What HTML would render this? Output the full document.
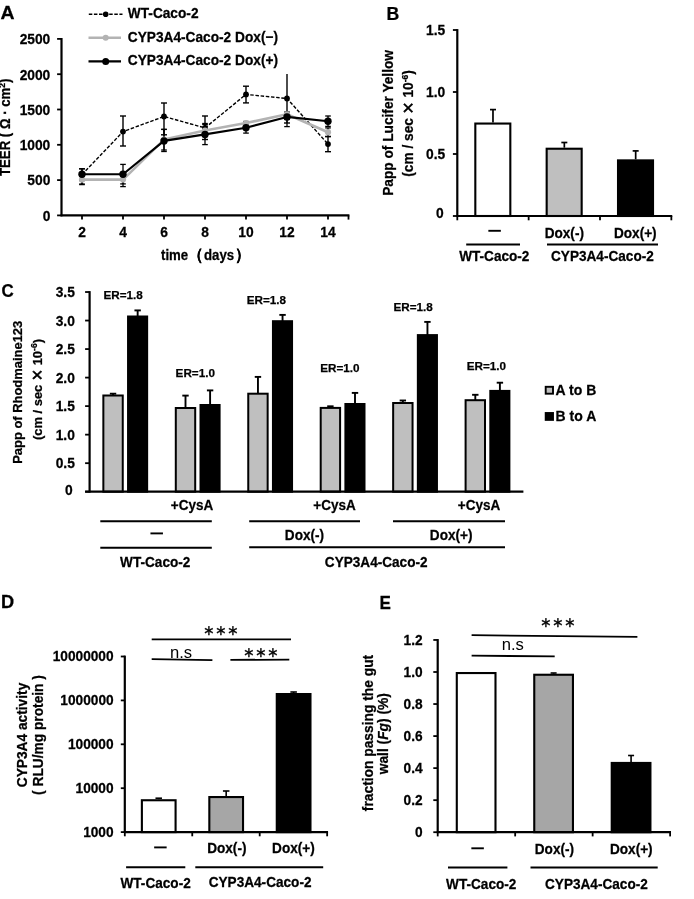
<!DOCTYPE html>
<html lang="en">
<head>
<meta charset="utf-8">
<title>Figure</title>
<style>
html,body{margin:0;padding:0;background:#fff;}
body{width:694px;height:899px;overflow:hidden;}
svg{display:block;}
svg text{font-family:"Liberation Sans", sans-serif;fill:#000;}
</style>
</head>
<body>
<svg width="694" height="899" viewBox="0 0 694 899">
<rect x="0" y="0" width="694" height="899" fill="#fff"/>
<text font-size="18" text-anchor="start" font-weight="bold" transform="translate(0.6 19) scale(1.08 1)" stroke="#000" stroke-width="0.25" >A</text>
<text font-size="18" text-anchor="start" font-weight="bold" transform="translate(386.4 19.5) scale(0.98 1)" stroke="#000" stroke-width="0.25" >B</text>
<text font-size="18" text-anchor="start" font-weight="bold" transform="translate(1.5 296.9) scale(0.94 1)" stroke="#000" stroke-width="0.25" >C</text>
<text font-size="18" text-anchor="start" font-weight="bold" transform="translate(0.9 608.4) scale(1.01 1)" stroke="#000" stroke-width="0.25" >D</text>
<text font-size="18" text-anchor="start" font-weight="bold" transform="translate(379.4 608.6) scale(0.95 1)" stroke="#000" stroke-width="0.25" >E</text>
<line x1="61.5" y1="38" x2="61.5" y2="216.3" stroke="#000" stroke-width="2.2" />
<line x1="60.6" y1="215.4" x2="349.4" y2="215.4" stroke="#000" stroke-width="2.2" />
<line x1="57.1" y1="215.4" x2="61.5" y2="215.4" stroke="#000" stroke-width="1.8" />
<text font-size="13.8" text-anchor="end" font-weight="bold" transform="translate(50.3 220.7) scale(1 1.05)" stroke="#000" stroke-width="0.25" >0</text>
<line x1="57.1" y1="180.1" x2="61.5" y2="180.1" stroke="#000" stroke-width="1.8" />
<text font-size="13.8" text-anchor="end" font-weight="bold" transform="translate(50.3 185.4) scale(1 1.05)" stroke="#000" stroke-width="0.25" >500</text>
<line x1="57.1" y1="144.8" x2="61.5" y2="144.8" stroke="#000" stroke-width="1.8" />
<text font-size="13.8" text-anchor="end" font-weight="bold" transform="translate(50.3 150.1) scale(1 1.05)" stroke="#000" stroke-width="0.25" >1000</text>
<line x1="57.1" y1="109.5" x2="61.5" y2="109.5" stroke="#000" stroke-width="1.8" />
<text font-size="13.8" text-anchor="end" font-weight="bold" transform="translate(50.3 114.8) scale(1 1.05)" stroke="#000" stroke-width="0.25" >1500</text>
<line x1="57.1" y1="74.2" x2="61.5" y2="74.2" stroke="#000" stroke-width="1.8" />
<text font-size="13.8" text-anchor="end" font-weight="bold" transform="translate(50.3 79.5) scale(1 1.05)" stroke="#000" stroke-width="0.25" >2000</text>
<line x1="57.1" y1="38.9" x2="61.5" y2="38.9" stroke="#000" stroke-width="1.8" />
<text font-size="13.8" text-anchor="end" font-weight="bold" transform="translate(50.3 44.2) scale(1 1.05)" stroke="#000" stroke-width="0.25" >2500</text>
<line x1="82" y1="215.4" x2="82" y2="219.6" stroke="#000" stroke-width="1.8" />
<text font-size="13.8" text-anchor="middle" font-weight="bold" transform="translate(82 236.8) scale(1 1.05)" stroke="#000" stroke-width="0.25" >2</text>
<line x1="123" y1="215.4" x2="123" y2="219.6" stroke="#000" stroke-width="1.8" />
<text font-size="13.8" text-anchor="middle" font-weight="bold" transform="translate(123 236.8) scale(1 1.05)" stroke="#000" stroke-width="0.25" >4</text>
<line x1="164" y1="215.4" x2="164" y2="219.6" stroke="#000" stroke-width="1.8" />
<text font-size="13.8" text-anchor="middle" font-weight="bold" transform="translate(164 236.8) scale(1 1.05)" stroke="#000" stroke-width="0.25" >6</text>
<line x1="205" y1="215.4" x2="205" y2="219.6" stroke="#000" stroke-width="1.8" />
<text font-size="13.8" text-anchor="middle" font-weight="bold" transform="translate(205 236.8) scale(1 1.05)" stroke="#000" stroke-width="0.25" >8</text>
<line x1="246" y1="215.4" x2="246" y2="219.6" stroke="#000" stroke-width="1.8" />
<text font-size="13.8" text-anchor="middle" font-weight="bold" transform="translate(246 236.8) scale(1 1.05)" stroke="#000" stroke-width="0.25" >10</text>
<line x1="287" y1="215.4" x2="287" y2="219.6" stroke="#000" stroke-width="1.8" />
<text font-size="13.8" text-anchor="middle" font-weight="bold" transform="translate(287 236.8) scale(1 1.05)" stroke="#000" stroke-width="0.25" >12</text>
<line x1="328" y1="215.4" x2="328" y2="219.6" stroke="#000" stroke-width="1.8" />
<text font-size="13.8" text-anchor="middle" font-weight="bold" transform="translate(328 236.8) scale(1 1.05)" stroke="#000" stroke-width="0.25" >14</text>
<line x1="348.5" y1="215.4" x2="348.5" y2="219.6" stroke="#000" stroke-width="1.8" />
<text font-size="13.2" text-anchor="middle" font-weight="bold" transform="translate(10.2 127.3) rotate(-90) scale(1 1.05)" stroke="#000" stroke-width="0.25" >TEER ( Ω · cm<tspan font-size="8.5" dy="-4.5">2</tspan><tspan dy="4.5">)</tspan></text>
<text font-size="13.2" text-anchor="start" font-weight="bold" transform="translate(161 259.6) scale(1 1.05)" stroke="#000" stroke-width="0.25" >time</text>
<text font-size="15" text-anchor="start" font-weight="bold" transform="translate(187.6 260) scale(1 1.05)" stroke="#000" stroke-width="0.25" font-family='"Liberation Sans","Noto Sans CJK JP",sans-serif'>（</text>
<text font-size="13.2" text-anchor="start" font-weight="bold" transform="translate(204 259.6) scale(1 1.05)" stroke="#000" stroke-width="0.25" >days</text>
<text font-size="15" text-anchor="start" font-weight="bold" transform="translate(235 260) scale(1 1.05)" stroke="#000" stroke-width="0.25" font-family='"Liberation Sans","Noto Sans CJK JP",sans-serif'>）</text>
<line x1="82" y1="168.8" x2="82" y2="180.5" stroke="#000" stroke-width="1.4" />
<line x1="79" y1="168.8" x2="85" y2="168.8" stroke="#000" stroke-width="1.4" />
<line x1="79" y1="180.5" x2="85" y2="180.5" stroke="#000" stroke-width="1.4" />
<line x1="123" y1="116" x2="123" y2="146" stroke="#000" stroke-width="1.4" />
<line x1="120" y1="116" x2="126" y2="116" stroke="#000" stroke-width="1.4" />
<line x1="120" y1="146" x2="126" y2="146" stroke="#000" stroke-width="1.4" />
<line x1="164" y1="103" x2="164" y2="134.8" stroke="#000" stroke-width="1.4" />
<line x1="161" y1="103" x2="167" y2="103" stroke="#000" stroke-width="1.4" />
<line x1="161" y1="134.8" x2="167" y2="134.8" stroke="#000" stroke-width="1.4" />
<line x1="205" y1="116" x2="205" y2="139.5" stroke="#000" stroke-width="1.4" />
<line x1="202" y1="116" x2="208" y2="116" stroke="#000" stroke-width="1.4" />
<line x1="202" y1="139.5" x2="208" y2="139.5" stroke="#000" stroke-width="1.4" />
<line x1="246" y1="86.2" x2="246" y2="102.9" stroke="#000" stroke-width="1.4" />
<line x1="243" y1="86.2" x2="249" y2="86.2" stroke="#000" stroke-width="1.4" />
<line x1="243" y1="102.9" x2="249" y2="102.9" stroke="#000" stroke-width="1.4" />
<line x1="287" y1="73.9" x2="287" y2="123" stroke="#000" stroke-width="1.4" />
<line x1="284" y1="123" x2="290" y2="123" stroke="#000" stroke-width="1.4" />
<line x1="328" y1="136.5" x2="328" y2="151.7" stroke="#000" stroke-width="1.4" />
<line x1="325" y1="136.5" x2="331" y2="136.5" stroke="#000" stroke-width="1.4" />
<line x1="325" y1="151.7" x2="331" y2="151.7" stroke="#000" stroke-width="1.4" />
<line x1="82" y1="175" x2="82" y2="184" stroke="#000" stroke-width="1.3" />
<line x1="79.2" y1="175" x2="84.8" y2="175" stroke="#000" stroke-width="1.3" />
<line x1="79.2" y1="184" x2="84.8" y2="184" stroke="#000" stroke-width="1.3" />
<line x1="123" y1="172.5" x2="123" y2="186.6" stroke="#000" stroke-width="1.3" />
<line x1="120.2" y1="172.5" x2="125.8" y2="172.5" stroke="#000" stroke-width="1.3" />
<line x1="120.2" y1="186.6" x2="125.8" y2="186.6" stroke="#000" stroke-width="1.3" />
<line x1="164" y1="129.4" x2="164" y2="150" stroke="#000" stroke-width="1.3" />
<line x1="161.2" y1="129.4" x2="166.8" y2="129.4" stroke="#000" stroke-width="1.3" />
<line x1="161.2" y1="150" x2="166.8" y2="150" stroke="#000" stroke-width="1.3" />
<line x1="205" y1="124.5" x2="205" y2="136.5" stroke="#000" stroke-width="1.3" />
<line x1="202.2" y1="124.5" x2="207.8" y2="124.5" stroke="#000" stroke-width="1.3" />
<line x1="202.2" y1="136.5" x2="207.8" y2="136.5" stroke="#000" stroke-width="1.3" />
<line x1="246" y1="121.5" x2="246" y2="126.5" stroke="#000" stroke-width="1.3" />
<line x1="243.2" y1="121.5" x2="248.8" y2="121.5" stroke="#000" stroke-width="1.3" />
<line x1="243.2" y1="126.5" x2="248.8" y2="126.5" stroke="#000" stroke-width="1.3" />
<line x1="287" y1="112" x2="287" y2="119.5" stroke="#000" stroke-width="1.3" />
<line x1="284.2" y1="112" x2="289.8" y2="112" stroke="#000" stroke-width="1.3" />
<line x1="284.2" y1="119.5" x2="289.8" y2="119.5" stroke="#000" stroke-width="1.3" />
<line x1="328" y1="127.9" x2="328" y2="136.6" stroke="#000" stroke-width="1.3" />
<line x1="325.2" y1="127.9" x2="330.8" y2="127.9" stroke="#000" stroke-width="1.3" />
<line x1="325.2" y1="136.6" x2="330.8" y2="136.6" stroke="#000" stroke-width="1.3" />
<line x1="82" y1="168.8" x2="82" y2="184.6" stroke="#000" stroke-width="1.3" />
<line x1="79.2" y1="168.8" x2="84.8" y2="168.8" stroke="#000" stroke-width="1.3" />
<line x1="79.2" y1="184.6" x2="84.8" y2="184.6" stroke="#000" stroke-width="1.3" />
<line x1="123" y1="164.4" x2="123" y2="183.9" stroke="#000" stroke-width="1.3" />
<line x1="120.2" y1="164.4" x2="125.8" y2="164.4" stroke="#000" stroke-width="1.3" />
<line x1="120.2" y1="183.9" x2="125.8" y2="183.9" stroke="#000" stroke-width="1.3" />
<line x1="164" y1="129.4" x2="164" y2="151.5" stroke="#000" stroke-width="1.3" />
<line x1="161.2" y1="129.4" x2="166.8" y2="129.4" stroke="#000" stroke-width="1.3" />
<line x1="161.2" y1="151.5" x2="166.8" y2="151.5" stroke="#000" stroke-width="1.3" />
<line x1="205" y1="123.5" x2="205" y2="144.6" stroke="#000" stroke-width="1.3" />
<line x1="202.2" y1="123.5" x2="207.8" y2="123.5" stroke="#000" stroke-width="1.3" />
<line x1="202.2" y1="144.6" x2="207.8" y2="144.6" stroke="#000" stroke-width="1.3" />
<line x1="246" y1="124.5" x2="246" y2="133.1" stroke="#000" stroke-width="1.3" />
<line x1="243.2" y1="124.5" x2="248.8" y2="124.5" stroke="#000" stroke-width="1.3" />
<line x1="243.2" y1="133.1" x2="248.8" y2="133.1" stroke="#000" stroke-width="1.3" />
<line x1="287" y1="113.5" x2="287" y2="126.6" stroke="#000" stroke-width="1.3" />
<line x1="284.2" y1="113.5" x2="289.8" y2="113.5" stroke="#000" stroke-width="1.3" />
<line x1="284.2" y1="126.6" x2="289.8" y2="126.6" stroke="#000" stroke-width="1.3" />
<line x1="328" y1="116" x2="328" y2="126.4" stroke="#000" stroke-width="1.3" />
<line x1="325.2" y1="116" x2="330.8" y2="116" stroke="#000" stroke-width="1.3" />
<line x1="325.2" y1="126.4" x2="330.8" y2="126.4" stroke="#000" stroke-width="1.3" />
<polyline points="82,174.5 123,131.6 164,116.5 205,127.9 246,94.4 287,98.5 328,144.1" fill="none" stroke="#000" stroke-width="1.4" stroke-linejoin="round" stroke-dasharray="3.5 1.7"/>
<circle cx="82" cy="174.5" r="2.9" fill="#000"/>
<circle cx="123" cy="131.6" r="2.9" fill="#000"/>
<circle cx="164" cy="116.5" r="2.9" fill="#000"/>
<circle cx="205" cy="127.9" r="2.9" fill="#000"/>
<circle cx="246" cy="94.4" r="2.9" fill="#000"/>
<circle cx="287" cy="98.5" r="2.9" fill="#000"/>
<circle cx="328" cy="144.1" r="2.9" fill="#000"/>
<polyline points="82,179.6 123,179.6 164,139.6 205,130.5 246,123 287,114.3 328,132.2" fill="none" stroke="#b3b3b3" stroke-width="2.6" stroke-linejoin="round"/>
<circle cx="82" cy="179.6" r="3.1" fill="#b3b3b3"/>
<circle cx="123" cy="179.6" r="3.1" fill="#b3b3b3"/>
<circle cx="164" cy="139.6" r="3.1" fill="#b3b3b3"/>
<circle cx="205" cy="130.5" r="3.1" fill="#b3b3b3"/>
<circle cx="246" cy="123" r="3.1" fill="#b3b3b3"/>
<circle cx="287" cy="114.3" r="3.1" fill="#b3b3b3"/>
<circle cx="328" cy="132.2" r="3.1" fill="#b3b3b3"/>
<polyline points="82,174.3 123,174.3 164,140.9 205,134.4 246,127.7 287,116.9 328,121.2" fill="none" stroke="#000" stroke-width="2.1" stroke-linejoin="round"/>
<circle cx="82" cy="174.3" r="3.7" fill="#000"/>
<circle cx="123" cy="174.3" r="3.7" fill="#000"/>
<circle cx="164" cy="140.9" r="3.7" fill="#000"/>
<circle cx="205" cy="134.4" r="3.7" fill="#000"/>
<circle cx="246" cy="127.7" r="3.7" fill="#000"/>
<circle cx="287" cy="116.9" r="3.7" fill="#000"/>
<circle cx="328" cy="121.2" r="3.7" fill="#000"/>
<line x1="88.8" y1="14.2" x2="122.5" y2="14.2" stroke="#000" stroke-width="1.4" stroke-dasharray="3.5 1.6"/>
<circle cx="105.7" cy="14.2" r="2.8" fill="#000"/>
<text font-size="13.7" text-anchor="start" font-weight="bold" transform="translate(127.8 18) scale(1 1.07)" stroke="#000" stroke-width="0.25" >WT-Caco-2</text>
<line x1="88.5" y1="37.8" x2="121" y2="37.8" stroke="#b3b3b3" stroke-width="2.4" />
<circle cx="105.7" cy="37.8" r="3" fill="#b3b3b3"/>
<text font-size="13.7" text-anchor="start" font-weight="bold" transform="translate(127.8 41.7) scale(1 1.07)" stroke="#000" stroke-width="0.25" >CYP3A4-Caco-2 Dox(−)</text>
<line x1="88.5" y1="61.4" x2="121" y2="61.4" stroke="#000" stroke-width="2.1" />
<circle cx="105.7" cy="61.4" r="3.5" fill="#000"/>
<text font-size="13.7" text-anchor="start" font-weight="bold" transform="translate(127.8 65.2) scale(1 1.07)" stroke="#000" stroke-width="0.25" >CYP3A4-Caco-2 Dox(+)</text>
<line x1="457.3" y1="29.1" x2="457.3" y2="216.9" stroke="#000" stroke-width="2.2" />
<text font-size="13.8" text-anchor="end" font-weight="bold" transform="translate(445.2 158.9) scale(1 1.05)" stroke="#000" stroke-width="0.25" >0.5</text>
<text font-size="13.8" text-anchor="end" font-weight="bold" transform="translate(445.2 96.9) scale(1 1.05)" stroke="#000" stroke-width="0.25" >1.0</text>
<text font-size="13.8" text-anchor="end" font-weight="bold" transform="translate(445.2 34.9) scale(1 1.05)" stroke="#000" stroke-width="0.25" >1.5</text>
<text font-size="13.8" text-anchor="end" font-weight="bold" transform="translate(443.6 217.7) scale(1 1.05)" stroke="#000" stroke-width="0.25" >0</text>
<line x1="452.9" y1="216" x2="457.3" y2="216" stroke="#000" stroke-width="1.8" />
<line x1="452.9" y1="154" x2="457.3" y2="154" stroke="#000" stroke-width="1.8" />
<line x1="452.9" y1="92" x2="457.3" y2="92" stroke="#000" stroke-width="1.8" />
<line x1="452.9" y1="30" x2="457.3" y2="30" stroke="#000" stroke-width="1.8" />
<line x1="457.3" y1="216" x2="457.3" y2="220.3" stroke="#000" stroke-width="1.8" />
<line x1="528.65" y1="216" x2="528.65" y2="220.3" stroke="#000" stroke-width="1.8" />
<line x1="600" y1="216" x2="600" y2="220.3" stroke="#000" stroke-width="1.8" />
<line x1="671.35" y1="216" x2="671.35" y2="220.3" stroke="#000" stroke-width="1.8" />
<line x1="492.98" y1="109.6" x2="492.98" y2="122.5" stroke="#000" stroke-width="1.7" />
<line x1="489.98" y1="109.6" x2="495.98" y2="109.6" stroke="#000" stroke-width="1.7" />
<rect x="475.32" y="123.55" width="35" height="92.45" fill="#fff" stroke="#000" stroke-width="2.1"/>
<line x1="564.33" y1="142.5" x2="564.33" y2="147.68" stroke="#000" stroke-width="1.7" />
<line x1="561.33" y1="142.5" x2="567.33" y2="142.5" stroke="#000" stroke-width="1.7" />
<rect x="546.67" y="148.73" width="35" height="67.27" fill="#bfbfbf" stroke="#000" stroke-width="2.1"/>
<line x1="635.67" y1="150.9" x2="635.67" y2="159.33" stroke="#000" stroke-width="1.7" />
<line x1="632.67" y1="150.9" x2="638.67" y2="150.9" stroke="#000" stroke-width="1.7" />
<rect x="618.02" y="160.38" width="35" height="55.62" fill="#000" stroke="#000" stroke-width="2.1"/>
<line x1="456.4" y1="216" x2="672.25" y2="216" stroke="#000" stroke-width="2.2" />
<text font-size="13.7" text-anchor="middle" font-weight="bold" transform="translate(393 122.9) rotate(-90) scale(1 1.05)" stroke="#000" stroke-width="0.25" >Papp of Lucifer Yellow</text>
<text font-size="13.7" text-anchor="middle" font-weight="bold" transform="translate(413 123.4) rotate(-90) scale(1 1.05)" stroke="#000" stroke-width="0.25" >(cm / sec<tspan dx="4.52" dy="2.19" font-size="19.86" font-weight="normal" stroke-width="0.5">×</tspan><tspan dx="4.52" dy="-2.19">10</tspan><tspan font-size="8.6" dy="-4.6">-6</tspan><tspan dy="4.6">)</tspan></text>
<line x1="488.35" y1="230.8" x2="500.85" y2="230.8" stroke="#000" stroke-width="1.9" />
<text font-size="13.6" text-anchor="middle" font-weight="bold" transform="translate(564.3 237.8) scale(1 1.05)" stroke="#000" stroke-width="0.25" >Dox(-)</text>
<text font-size="13.6" text-anchor="middle" font-weight="bold" transform="translate(635.3 237.8) scale(1 1.05)" stroke="#000" stroke-width="0.25" >Dox(+)</text>
<line x1="466.2" y1="244.5" x2="520" y2="244.5" stroke="#000" stroke-width="2" />
<line x1="547" y1="244.5" x2="658" y2="244.5" stroke="#000" stroke-width="2" />
<text font-size="13.6" text-anchor="middle" font-weight="bold" transform="translate(494.3 261.2) scale(1 1.05)" stroke="#000" stroke-width="0.25" >WT-Caco-2</text>
<text font-size="13.6" text-anchor="middle" font-weight="bold" transform="translate(602.4 261.2) scale(1 1.05)" stroke="#000" stroke-width="0.25" >CYP3A4-Caco-2</text>
<line x1="89.6" y1="291.12" x2="89.6" y2="492.6" stroke="#000" stroke-width="2.2" />
<line x1="85.1" y1="491.7" x2="89.6" y2="491.7" stroke="#000" stroke-width="1.8" />
<line x1="85.1" y1="463.18" x2="89.6" y2="463.18" stroke="#000" stroke-width="1.8" />
<text font-size="13.8" text-anchor="end" font-weight="bold" transform="translate(74.8 468.18) scale(1 1.05)" stroke="#000" stroke-width="0.25" >0.5</text>
<line x1="85.1" y1="434.65" x2="89.6" y2="434.65" stroke="#000" stroke-width="1.8" />
<text font-size="13.8" text-anchor="end" font-weight="bold" transform="translate(74.8 439.65) scale(1 1.05)" stroke="#000" stroke-width="0.25" >1.0</text>
<line x1="85.1" y1="406.12" x2="89.6" y2="406.12" stroke="#000" stroke-width="1.8" />
<text font-size="13.8" text-anchor="end" font-weight="bold" transform="translate(74.8 411.12) scale(1 1.05)" stroke="#000" stroke-width="0.25" >1.5</text>
<line x1="85.1" y1="377.6" x2="89.6" y2="377.6" stroke="#000" stroke-width="1.8" />
<text font-size="13.8" text-anchor="end" font-weight="bold" transform="translate(74.8 382.6) scale(1 1.05)" stroke="#000" stroke-width="0.25" >2.0</text>
<line x1="85.1" y1="349.07" x2="89.6" y2="349.07" stroke="#000" stroke-width="1.8" />
<text font-size="13.8" text-anchor="end" font-weight="bold" transform="translate(74.8 354.07) scale(1 1.05)" stroke="#000" stroke-width="0.25" >2.5</text>
<line x1="85.1" y1="320.55" x2="89.6" y2="320.55" stroke="#000" stroke-width="1.8" />
<text font-size="13.8" text-anchor="end" font-weight="bold" transform="translate(74.8 325.55) scale(1 1.05)" stroke="#000" stroke-width="0.25" >3.0</text>
<line x1="85.1" y1="292.02" x2="89.6" y2="292.02" stroke="#000" stroke-width="1.8" />
<text font-size="13.8" text-anchor="end" font-weight="bold" transform="translate(74.8 297.02) scale(1 1.05)" stroke="#000" stroke-width="0.25" >3.5</text>
<text font-size="13.8" text-anchor="end" font-weight="bold" transform="translate(72.6 494.9) scale(1 1.05)" stroke="#000" stroke-width="0.25" >0</text>
<line x1="113.05" y1="393.7" x2="113.05" y2="395.5" stroke="#000" stroke-width="1.9" />
<line x1="109.85" y1="393.7" x2="116.25" y2="393.7" stroke="#000" stroke-width="1.9" />
<rect x="103.35" y="395.5" width="19.4" height="96.2" fill="#bfbfbf" stroke="#000" stroke-width="2"/>
<line x1="137.65" y1="310.4" x2="137.65" y2="316.5" stroke="#000" stroke-width="1.9" />
<line x1="134.45" y1="310.4" x2="140.85" y2="310.4" stroke="#000" stroke-width="1.9" />
<rect x="128.05" y="316.5" width="19.1" height="175.2" fill="#000" stroke="#000" stroke-width="2"/>
<line x1="185.5" y1="395.6" x2="185.5" y2="408" stroke="#000" stroke-width="1.9" />
<line x1="182.3" y1="395.6" x2="188.7" y2="395.6" stroke="#000" stroke-width="1.9" />
<rect x="175.8" y="408" width="19.4" height="83.7" fill="#bfbfbf" stroke="#000" stroke-width="2"/>
<line x1="210.1" y1="390.4" x2="210.1" y2="405" stroke="#000" stroke-width="1.9" />
<line x1="206.9" y1="390.4" x2="213.3" y2="390.4" stroke="#000" stroke-width="1.9" />
<rect x="200.5" y="405" width="19.1" height="86.7" fill="#000" stroke="#000" stroke-width="2"/>
<line x1="257.95" y1="376.9" x2="257.95" y2="393.7" stroke="#000" stroke-width="1.9" />
<line x1="254.75" y1="376.9" x2="261.15" y2="376.9" stroke="#000" stroke-width="1.9" />
<rect x="248.25" y="393.7" width="19.4" height="98" fill="#bfbfbf" stroke="#000" stroke-width="2"/>
<line x1="282.55" y1="314.9" x2="282.55" y2="321.2" stroke="#000" stroke-width="1.9" />
<line x1="279.35" y1="314.9" x2="285.75" y2="314.9" stroke="#000" stroke-width="1.9" />
<rect x="272.95" y="321.2" width="19.1" height="170.5" fill="#000" stroke="#000" stroke-width="2"/>
<line x1="330.4" y1="406.3" x2="330.4" y2="407.9" stroke="#000" stroke-width="1.9" />
<line x1="327.2" y1="406.3" x2="333.6" y2="406.3" stroke="#000" stroke-width="1.9" />
<rect x="320.7" y="407.9" width="19.4" height="83.8" fill="#bfbfbf" stroke="#000" stroke-width="2"/>
<line x1="355" y1="392.9" x2="355" y2="404" stroke="#000" stroke-width="1.9" />
<line x1="351.8" y1="392.9" x2="358.2" y2="392.9" stroke="#000" stroke-width="1.9" />
<rect x="345.4" y="404" width="19.1" height="87.7" fill="#000" stroke="#000" stroke-width="2"/>
<line x1="402.85" y1="400.5" x2="402.85" y2="403" stroke="#000" stroke-width="1.9" />
<line x1="399.65" y1="400.5" x2="406.05" y2="400.5" stroke="#000" stroke-width="1.9" />
<rect x="393.15" y="403" width="19.4" height="88.7" fill="#bfbfbf" stroke="#000" stroke-width="2"/>
<line x1="427.45" y1="321.9" x2="427.45" y2="335.1" stroke="#000" stroke-width="1.9" />
<line x1="424.25" y1="321.9" x2="430.65" y2="321.9" stroke="#000" stroke-width="1.9" />
<rect x="417.85" y="335.1" width="19.1" height="156.6" fill="#000" stroke="#000" stroke-width="2"/>
<line x1="475.3" y1="394.8" x2="475.3" y2="400.2" stroke="#000" stroke-width="1.9" />
<line x1="472.1" y1="394.8" x2="478.5" y2="394.8" stroke="#000" stroke-width="1.9" />
<rect x="465.6" y="400.2" width="19.4" height="91.5" fill="#bfbfbf" stroke="#000" stroke-width="2"/>
<line x1="499.9" y1="382.7" x2="499.9" y2="390.9" stroke="#000" stroke-width="1.9" />
<line x1="496.7" y1="382.7" x2="503.1" y2="382.7" stroke="#000" stroke-width="1.9" />
<rect x="490.3" y="390.9" width="19.1" height="100.8" fill="#000" stroke="#000" stroke-width="2"/>
<line x1="85.1" y1="491.7" x2="523.4" y2="491.7" stroke="#000" stroke-width="2.2" />
<text font-size="11.7" text-anchor="start" font-weight="bold" transform="translate(103.4 298.9) scale(1 1)" stroke="#000" stroke-width="0.25" >ER=1.8</text>
<text font-size="11.7" text-anchor="start" font-weight="bold" transform="translate(175.6 376.8) scale(1 1)" stroke="#000" stroke-width="0.25" >ER=1.0</text>
<text font-size="11.7" text-anchor="start" font-weight="bold" transform="translate(246.7 303.9) scale(1 1)" stroke="#000" stroke-width="0.25" >ER=1.8</text>
<text font-size="11.7" text-anchor="start" font-weight="bold" transform="translate(320.2 372.2) scale(1 1)" stroke="#000" stroke-width="0.25" >ER=1.0</text>
<text font-size="11.7" text-anchor="start" font-weight="bold" transform="translate(393.4 310.8) scale(1 1)" stroke="#000" stroke-width="0.25" >ER=1.8</text>
<text font-size="11.7" text-anchor="start" font-weight="bold" transform="translate(466.8 369.9) scale(1 1)" stroke="#000" stroke-width="0.25" >ER=1.0</text>
<text font-size="12.95" text-anchor="middle" font-weight="bold" transform="translate(22.1 392.3) rotate(-90) scale(1 1.05)" stroke="#000" stroke-width="0.25" >Papp of Rhodmaine123</text>
<text font-size="12.9" text-anchor="middle" font-weight="bold" transform="translate(42.3 389.5) rotate(-90) scale(1 1.05)" stroke="#000" stroke-width="0.25" >(cm / sec<tspan dx="4.26" dy="2.06" font-size="18.7" font-weight="normal" stroke-width="0.5">×</tspan><tspan dx="4.26" dy="-2.06">10</tspan><tspan font-size="8.6" dy="-4.6">-6</tspan><tspan dy="4.6">)</tspan></text>
<rect x="545.7" y="386.8" width="7.3" height="6.9" fill="#bfbfbf" stroke="#000" stroke-width="1.9"/>
<text font-size="14" text-anchor="start" font-weight="bold" transform="translate(555.6 394.7) scale(1 1.07)" stroke="#000" stroke-width="0.25" >A to B</text>
<rect x="545.7" y="413" width="7.3" height="6.9" fill="#000" stroke="#000" stroke-width="1.9"/>
<text font-size="14" text-anchor="start" font-weight="bold" transform="translate(555.6 420.8) scale(1 1.07)" stroke="#000" stroke-width="0.25" >B to A</text>
<text font-size="13.5" text-anchor="middle" font-weight="bold" transform="translate(192 510.1) scale(1 1.05)" stroke="#000" stroke-width="0.25" >+CysA</text>
<text font-size="13.5" text-anchor="middle" font-weight="bold" transform="translate(334.5 510.1) scale(1 1.05)" stroke="#000" stroke-width="0.25" >+CysA</text>
<text font-size="13.5" text-anchor="middle" font-weight="bold" transform="translate(479 510.1) scale(1 1.05)" stroke="#000" stroke-width="0.25" >+CysA</text>
<line x1="100.3" y1="521.3" x2="211.8" y2="521.3" stroke="#000" stroke-width="2" />
<line x1="249.2" y1="521.3" x2="360" y2="521.3" stroke="#000" stroke-width="2" />
<line x1="393" y1="521.3" x2="505" y2="521.3" stroke="#000" stroke-width="2" />
<line x1="150.45" y1="533.4" x2="162.95" y2="533.4" stroke="#000" stroke-width="1.9" />
<text font-size="13.6" text-anchor="middle" font-weight="bold" transform="translate(304.5 540.3) scale(1 1.05)" stroke="#000" stroke-width="0.25" >Dox(-)</text>
<text font-size="13.6" text-anchor="middle" font-weight="bold" transform="translate(451.2 540.3) scale(1 1.05)" stroke="#000" stroke-width="0.25" >Dox(+)</text>
<line x1="100.3" y1="547.8" x2="211.8" y2="547.8" stroke="#000" stroke-width="2" />
<line x1="249.2" y1="547.3" x2="505" y2="547.3" stroke="#000" stroke-width="2" />
<text font-size="13.6" text-anchor="middle" font-weight="bold" transform="translate(155.2 567) scale(1 1.05)" stroke="#000" stroke-width="0.25" >WT-Caco-2</text>
<text font-size="13.6" text-anchor="middle" font-weight="bold" transform="translate(376.2 567) scale(1 1.05)" stroke="#000" stroke-width="0.25" >CYP3A4-Caco-2</text>
<line x1="124.8" y1="655.6" x2="124.8" y2="833" stroke="#000" stroke-width="2.2" />
<line x1="120.8" y1="832.1" x2="124.8" y2="832.1" stroke="#000" stroke-width="1.8" />
<text font-size="13.7" text-anchor="end" font-weight="bold" transform="translate(113.6 837) scale(1 1.05)" stroke="#000" stroke-width="0.25" >1000</text>
<line x1="120.8" y1="788.2" x2="124.8" y2="788.2" stroke="#000" stroke-width="1.8" />
<text font-size="13.7" text-anchor="end" font-weight="bold" transform="translate(113.6 793.1) scale(1 1.05)" stroke="#000" stroke-width="0.25" >10000</text>
<line x1="120.8" y1="744.3" x2="124.8" y2="744.3" stroke="#000" stroke-width="1.8" />
<text font-size="13.7" text-anchor="end" font-weight="bold" transform="translate(113.6 749.2) scale(1 1.05)" stroke="#000" stroke-width="0.25" >100000</text>
<line x1="120.8" y1="700.4" x2="124.8" y2="700.4" stroke="#000" stroke-width="1.8" />
<text font-size="13.7" text-anchor="end" font-weight="bold" transform="translate(113.6 705.3) scale(1 1.05)" stroke="#000" stroke-width="0.25" >1000000</text>
<line x1="120.8" y1="656.5" x2="124.8" y2="656.5" stroke="#000" stroke-width="1.8" />
<text font-size="13.7" text-anchor="end" font-weight="bold" transform="translate(113.6 661.4) scale(1 1.05)" stroke="#000" stroke-width="0.25" >10000000</text>
<line x1="124.8" y1="832.1" x2="124.8" y2="836.3" stroke="#000" stroke-width="1.8" />
<line x1="192.25" y1="832.1" x2="192.25" y2="836.3" stroke="#000" stroke-width="1.8" />
<line x1="259.7" y1="832.1" x2="259.7" y2="836.3" stroke="#000" stroke-width="1.8" />
<line x1="327.15" y1="832.1" x2="327.15" y2="836.3" stroke="#000" stroke-width="1.8" />
<line x1="158.72" y1="798.2" x2="158.72" y2="799.2" stroke="#000" stroke-width="1.6" />
<line x1="155.47" y1="798.2" x2="161.97" y2="798.2" stroke="#000" stroke-width="1.6" />
<rect x="141.88" y="800.25" width="33.7" height="31.85" fill="#fff" stroke="#000" stroke-width="2.1"/>
<line x1="226.18" y1="791" x2="226.18" y2="796" stroke="#000" stroke-width="1.6" />
<line x1="222.93" y1="791" x2="229.43" y2="791" stroke="#000" stroke-width="1.6" />
<rect x="209.33" y="797.05" width="33.7" height="35.05" fill="#a6a6a6" stroke="#000" stroke-width="2.1"/>
<line x1="293.62" y1="692" x2="293.62" y2="693" stroke="#000" stroke-width="1.6" />
<line x1="290.38" y1="692" x2="296.88" y2="692" stroke="#000" stroke-width="1.6" />
<rect x="276.77" y="694.05" width="33.7" height="138.05" fill="#000" stroke="#000" stroke-width="2.1"/>
<line x1="123.9" y1="832.1" x2="328.05" y2="832.1" stroke="#000" stroke-width="2.2" />
<text font-size="13.75" text-anchor="middle" font-weight="bold" transform="translate(26.6 735) rotate(-90) scale(1 1.05)" stroke="#000" stroke-width="0.25" >CYP3A4 activity</text>
<text font-size="13.75" text-anchor="middle" font-weight="bold" transform="translate(42.6 735) rotate(-90) scale(1 1.05)" stroke="#000" stroke-width="0.25" >( RLU/mg protein )</text>
<line x1="151.7" y1="639.4" x2="291" y2="639.4" stroke="#000" stroke-width="1.8" />
<line x1="151.7" y1="659.2" x2="212.4" y2="660.2" stroke="#000" stroke-width="1.8" />
<line x1="230.4" y1="659.9" x2="289.3" y2="659.6" stroke="#000" stroke-width="1.8" />
<text font-size="14.3" text-anchor="middle" font-weight="normal" transform="translate(220.6 634.6)" font-family='"DejaVu Sans",sans-serif' stroke="#000" stroke-width="0.3">∗∗∗</text>
<text font-size="14.3" text-anchor="middle" font-weight="normal" transform="translate(260.5 656.9)" font-family='"DejaVu Sans",sans-serif' stroke="#000" stroke-width="0.3">∗∗∗</text>
<text font-size="16.6" text-anchor="middle" font-weight="normal" transform="translate(181 657.7)" >n.s</text>
<line x1="154.15" y1="847.4" x2="166.65" y2="847.4" stroke="#000" stroke-width="1.9" />
<text font-size="13.6" text-anchor="middle" font-weight="bold" transform="translate(226.8 853.4) scale(1 1.05)" stroke="#000" stroke-width="0.25" >Dox(-)</text>
<text font-size="13.6" text-anchor="middle" font-weight="bold" transform="translate(293.4 853.4) scale(1 1.05)" stroke="#000" stroke-width="0.25" >Dox(+)</text>
<line x1="126.1" y1="867.3" x2="185.3" y2="867.3" stroke="#000" stroke-width="2" />
<line x1="195.3" y1="867.3" x2="323.2" y2="867.3" stroke="#000" stroke-width="2" />
<text font-size="13.6" text-anchor="middle" font-weight="bold" transform="translate(155.6 887.8) scale(1 1.05)" stroke="#000" stroke-width="0.25" >WT-Caco-2</text>
<text font-size="13.6" text-anchor="middle" font-weight="bold" transform="translate(260.1 887.2) scale(1 1.05)" stroke="#000" stroke-width="0.25" >CYP3A4-Caco-2</text>
<line x1="437.7" y1="639.06" x2="437.7" y2="833.1" stroke="#000" stroke-width="2.2" />
<line x1="433.3" y1="832.2" x2="437.7" y2="832.2" stroke="#000" stroke-width="1.8" />
<text font-size="13.7" text-anchor="end" font-weight="bold" transform="translate(422.6 837.1) scale(1 1.05)" stroke="#000" stroke-width="0.25" >0</text>
<line x1="433.3" y1="800.16" x2="437.7" y2="800.16" stroke="#000" stroke-width="1.8" />
<text font-size="13.7" text-anchor="end" font-weight="bold" transform="translate(422.6 805.06) scale(1 1.05)" stroke="#000" stroke-width="0.25" >0.2</text>
<line x1="433.3" y1="768.12" x2="437.7" y2="768.12" stroke="#000" stroke-width="1.8" />
<text font-size="13.7" text-anchor="end" font-weight="bold" transform="translate(422.6 773.02) scale(1 1.05)" stroke="#000" stroke-width="0.25" >0.4</text>
<line x1="433.3" y1="736.08" x2="437.7" y2="736.08" stroke="#000" stroke-width="1.8" />
<text font-size="13.7" text-anchor="end" font-weight="bold" transform="translate(422.6 740.98) scale(1 1.05)" stroke="#000" stroke-width="0.25" >0.6</text>
<line x1="433.3" y1="704.04" x2="437.7" y2="704.04" stroke="#000" stroke-width="1.8" />
<text font-size="13.7" text-anchor="end" font-weight="bold" transform="translate(422.6 708.94) scale(1 1.05)" stroke="#000" stroke-width="0.25" >0.8</text>
<line x1="433.3" y1="672" x2="437.7" y2="672" stroke="#000" stroke-width="1.8" />
<text font-size="13.7" text-anchor="end" font-weight="bold" transform="translate(422.6 676.9) scale(1 1.05)" stroke="#000" stroke-width="0.25" >1.0</text>
<line x1="433.3" y1="639.96" x2="437.7" y2="639.96" stroke="#000" stroke-width="1.8" />
<text font-size="13.7" text-anchor="end" font-weight="bold" transform="translate(422.6 644.86) scale(1 1.05)" stroke="#000" stroke-width="0.25" >1.2</text>
<line x1="437.7" y1="832.2" x2="437.7" y2="836.4" stroke="#000" stroke-width="1.8" />
<line x1="515.17" y1="832.2" x2="515.17" y2="836.4" stroke="#000" stroke-width="1.8" />
<line x1="592.64" y1="832.2" x2="592.64" y2="836.4" stroke="#000" stroke-width="1.8" />
<line x1="670.11" y1="832.2" x2="670.11" y2="836.4" stroke="#000" stroke-width="1.8" />
<rect x="456.79" y="673.05" width="38.7" height="159.15" fill="#fff" stroke="#000" stroke-width="2.1"/>
<line x1="553.61" y1="673" x2="553.61" y2="673.7" stroke="#000" stroke-width="1.6" />
<line x1="550.61" y1="673" x2="556.61" y2="673" stroke="#000" stroke-width="1.6" />
<rect x="534.25" y="674.75" width="38.7" height="157.45" fill="#a6a6a6" stroke="#000" stroke-width="2.1"/>
<line x1="631.08" y1="755.5" x2="631.08" y2="761.9" stroke="#000" stroke-width="1.6" />
<line x1="628.08" y1="755.5" x2="634.08" y2="755.5" stroke="#000" stroke-width="1.6" />
<rect x="611.73" y="762.95" width="38.7" height="69.25" fill="#000" stroke="#000" stroke-width="2.1"/>
<line x1="436.8" y1="832.2" x2="671.01" y2="832.2" stroke="#000" stroke-width="2.2" />
<text font-size="13.8" text-anchor="middle" font-weight="bold" transform="translate(372.6 733) rotate(-90) scale(1 1.1)" stroke="#000" stroke-width="0.25" >fraction passing the gut</text>
<text font-size="13.8" text-anchor="middle" font-weight="bold" transform="translate(388.4 733.7) rotate(-90) scale(1 1.05)" stroke="#000" stroke-width="0.25" >wall (<tspan font-style="italic">Fg</tspan>) (%)</text>
<line x1="471.6" y1="635.2" x2="637.4" y2="636.8" stroke="#000" stroke-width="1.8" />
<line x1="471.6" y1="655.7" x2="554.7" y2="656.4" stroke="#000" stroke-width="1.8" />
<text font-size="14.3" text-anchor="middle" font-weight="normal" transform="translate(557.5 627)" font-family='"DejaVu Sans",sans-serif' stroke="#000" stroke-width="0.3">∗∗∗</text>
<text font-size="16.6" text-anchor="middle" font-weight="normal" transform="translate(512.8 650.2)" >n.s</text>
<line x1="471.35" y1="848.3" x2="483.85" y2="848.3" stroke="#000" stroke-width="1.9" />
<text font-size="13.6" text-anchor="middle" font-weight="bold" transform="translate(554.4 854.3) scale(1 1.05)" stroke="#000" stroke-width="0.25" >Dox(-)</text>
<text font-size="13.6" text-anchor="middle" font-weight="bold" transform="translate(631.3 854.3) scale(1 1.05)" stroke="#000" stroke-width="0.25" >Dox(+)</text>
<line x1="448" y1="867.5" x2="507.4" y2="867.5" stroke="#000" stroke-width="2" />
<line x1="530.5" y1="867.5" x2="657.7" y2="867.5" stroke="#000" stroke-width="2" />
<text font-size="13.6" text-anchor="middle" font-weight="bold" transform="translate(481.2 889.3) scale(1 1.05)" stroke="#000" stroke-width="0.25" >WT-Caco-2</text>
<text font-size="13.6" text-anchor="middle" font-weight="bold" transform="translate(596.4 889.3) scale(1 1.05)" stroke="#000" stroke-width="0.25" >CYP3A4-Caco-2</text>
</svg>
</body>
</html>
